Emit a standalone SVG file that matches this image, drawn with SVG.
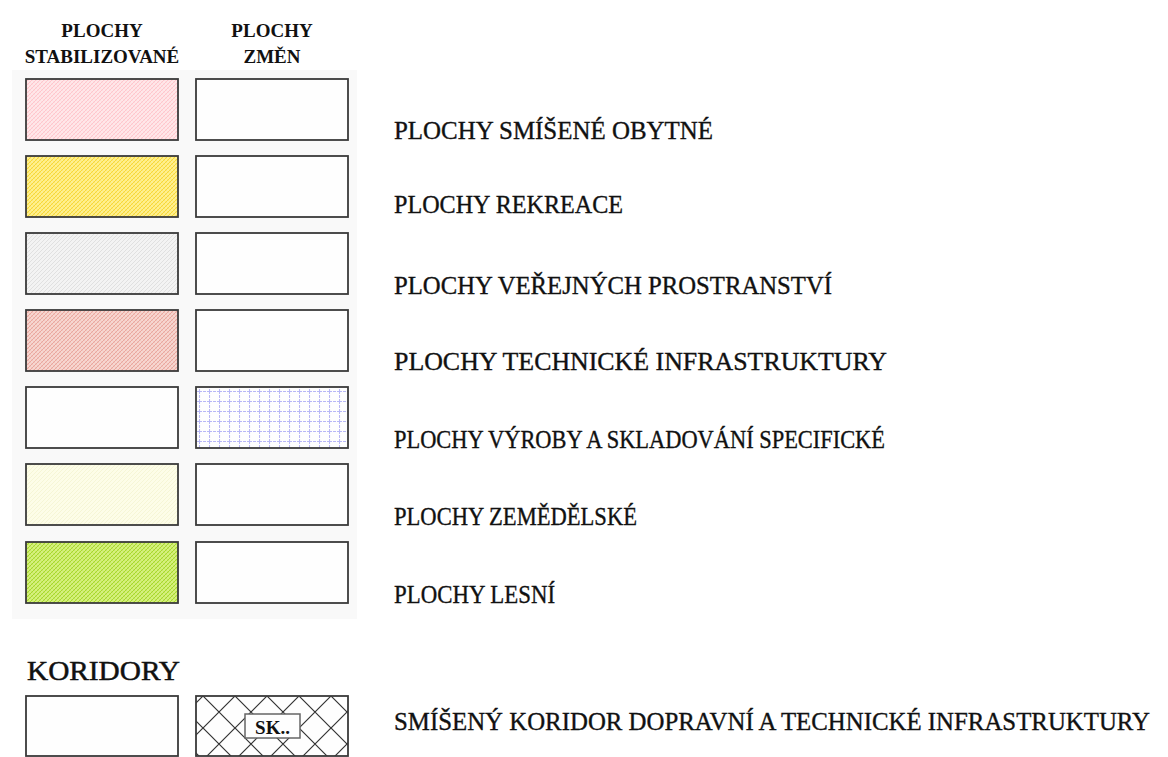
<svg xmlns="http://www.w3.org/2000/svg" width="1168" height="757" viewBox="0 0 1168 757">
<style>
  .hdr{font-family:"Liberation Serif","Times New Roman",serif;font-weight:bold;font-size:19px;fill:#111;text-anchor:middle}
  .lbl{font-family:"Liberation Serif","Times New Roman",serif;font-size:25px;fill:#111;stroke:#111;stroke-width:0.35}
  .box{stroke:#3a3a3a;stroke-width:1.8}
  .plain{fill:#fefefe}
</style>
<defs>
  <pattern id="pPink" width="4" height="4" patternUnits="userSpaceOnUse">
    <rect width="4" height="4" fill="#ffe7e9"/>
    <path d="M0,4 L4,0 M-1,1 L1,-1 M3,5 L5,3" stroke="#ffc6cc" stroke-width="1"/>
    <path d="M0,0 L4,4" stroke="#ffd6da" stroke-width="0.6"/>
  </pattern>
  <pattern id="pYellow" width="4" height="4" patternUnits="userSpaceOnUse">
    <rect width="4" height="4" fill="#fff08f"/>
    <path d="M0,4 L4,0 M-1,1 L1,-1 M3,5 L5,3" stroke="#f7d838" stroke-width="1"/>
    <path d="M0,0 L4,4" stroke="#fae266" stroke-width="0.6"/>
  </pattern>
  <pattern id="pGray" width="4" height="4" patternUnits="userSpaceOnUse">
    <rect width="4" height="4" fill="#f3f3f3"/>
    <path d="M0,4 L4,0 M-1,1 L1,-1 M3,5 L5,3" stroke="#e0e0e0" stroke-width="1"/>
  </pattern>
  <pattern id="pSalmon" width="4" height="4" patternUnits="userSpaceOnUse">
    <rect width="4" height="4" fill="#f7d6d0"/>
    <path d="M0,4 L4,0 M-1,1 L1,-1 M3,5 L5,3" stroke="#eaa79e" stroke-width="1"/>
    <path d="M0,0 L4,4" stroke="#efbdb6" stroke-width="0.6"/>
  </pattern>
  <pattern id="pCream" width="4" height="4" patternUnits="userSpaceOnUse">
    <rect width="4" height="4" fill="#fdfde8"/>
    <path d="M0,4 L4,0 M-1,1 L1,-1 M3,5 L5,3" stroke="#f6f6d6" stroke-width="1"/>
  </pattern>
  <pattern id="pLime" width="4" height="4" patternUnits="userSpaceOnUse">
    <rect width="4" height="4" fill="#d6f07e"/>
    <path d="M0,4 L4,0 M-1,1 L1,-1 M3,5 L5,3" stroke="#a8d82c" stroke-width="1"/>
    <path d="M0,0 L4,4" stroke="#bce455" stroke-width="0.6"/>
  </pattern>
  <pattern id="pGrid" x="199" y="391" width="10" height="10" patternUnits="userSpaceOnUse">
    <rect width="10" height="10" fill="#fefefe"/>
    <path d="M0,0.5 H10 M0.5,0 V10" stroke="#b8b8f6" stroke-width="1.1" stroke-dasharray="3,1"/>
  </pattern>
  <pattern id="pCross" x="203" y="696" width="32" height="32" patternUnits="userSpaceOnUse">
    <rect width="32" height="32" fill="#fefefe"/>
    <path d="M0,0 L32,32 M32,0 L0,32" stroke="#333" stroke-width="1.2"/>
  </pattern>
</defs>

<g id="headers">
  <text class="hdr" x="102" y="37">PLOCHY</text>
  <text class="hdr" x="102" y="63">STABILIZOVANÉ</text>
  <text class="hdr" x="272" y="37">PLOCHY</text>
  <text class="hdr" x="272" y="63">ZMĚN</text>
</g>

<rect id="panel" x="12" y="70" width="345" height="549" fill="#f9f9f9"/>

<g id="row1">
  <rect class="box" x="26" y="79" width="152" height="61" fill="url(#pPink)"/>
  <rect class="box plain" x="196" y="79" width="152" height="61"/>
  <text class="lbl" x="394" y="139" textLength="319" lengthAdjust="spacingAndGlyphs">PLOCHY SMÍŠENÉ OBYTNÉ</text>
</g>
<g id="row2">
  <rect class="box" x="26" y="156" width="152" height="61" fill="url(#pYellow)"/>
  <rect class="box plain" x="196" y="156" width="152" height="61"/>
  <text class="lbl" x="394" y="213" stroke-width="0.8" textLength="229" lengthAdjust="spacingAndGlyphs">PLOCHY REKREACE</text>
</g>
<g id="row3">
  <rect class="box" x="26" y="233" width="152" height="61" fill="url(#pGray)"/>
  <rect class="box plain" x="196" y="233" width="152" height="61"/>
  <text class="lbl" x="394" y="294" textLength="438" lengthAdjust="spacingAndGlyphs">PLOCHY VEŘEJNÝCH PROSTRANSTVÍ</text>
</g>
<g id="row4">
  <rect class="box" x="26" y="310" width="152" height="61" fill="url(#pSalmon)"/>
  <rect class="box plain" x="196" y="310" width="152" height="61"/>
  <text class="lbl" x="394" y="370" textLength="493" lengthAdjust="spacingAndGlyphs">PLOCHY TECHNICKÉ INFRASTRUKTURY</text>
</g>
<g id="row5">
  <rect class="box plain" x="26" y="387" width="152" height="61"/>
  <rect class="box" x="196" y="387" width="152" height="61" fill="url(#pGrid)"/>
  <text class="lbl" x="394" y="448" textLength="491" lengthAdjust="spacingAndGlyphs">PLOCHY VÝROBY A SKLADOVÁNÍ SPECIFICKÉ</text>
</g>
<g id="row6">
  <rect class="box" x="26" y="464" width="152" height="61" fill="url(#pCream)"/>
  <rect class="box plain" x="196" y="464" width="152" height="61"/>
  <text class="lbl" x="394" y="525" textLength="243" lengthAdjust="spacingAndGlyphs">PLOCHY ZEMĚDĚLSKÉ</text>
</g>
<g id="row7">
  <rect class="box" x="26" y="542" width="152" height="61" fill="url(#pLime)"/>
  <rect class="box plain" x="196" y="542" width="152" height="61"/>
  <text class="lbl" x="394" y="603" textLength="161" lengthAdjust="spacingAndGlyphs">PLOCHY LESNÍ</text>
</g>

<text id="koridory" x="27" y="680" font-family="'Liberation Serif','Times New Roman',serif" font-size="28" fill="#111" stroke="#111" stroke-width="0.5" textLength="153" lengthAdjust="spacingAndGlyphs">KORIDORY</text>

<g id="corridor">
  <rect class="box plain" x="26" y="696" width="152" height="60"/>
  <rect class="box" x="196" y="696" width="152" height="60" fill="url(#pCross)"/>
  <rect x="245" y="714" width="55" height="24" fill="#fefefe" stroke="#666" stroke-width="1.5"/>
  <text x="272.5" y="734" font-family="'Liberation Serif','Times New Roman',serif" font-weight="bold" font-size="19" fill="#111" text-anchor="middle">SK..</text>
  <text class="lbl" x="394" y="730" textLength="756" lengthAdjust="spacingAndGlyphs">SMÍŠENÝ KORIDOR DOPRAVNÍ A TECHNICKÉ INFRASTRUKTURY</text>
</g>
<g id="connectors"/>
</svg>
